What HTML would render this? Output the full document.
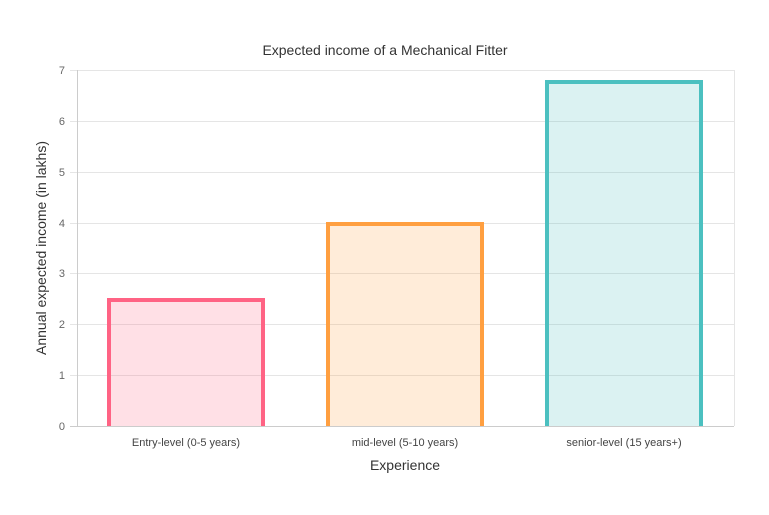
<!DOCTYPE html>
<html><head><meta charset="utf-8"><style>body{margin:0;background:#fff}</style></head><body>
<svg width="769" height="510" xmlns="http://www.w3.org/2000/svg" font-family="Liberation Sans, Arial, sans-serif">
<rect width="769" height="510" fill="#fff"/>
<text x="385" y="55" text-anchor="middle" font-size="14" fill="#333">Expected income of a Mechanical Fitter</text>
<g stroke="#e5e5e5" stroke-width="1">
<line x1="70" y1="70.5" x2="734" y2="70.5"/>
<line x1="70" y1="121.5" x2="734" y2="121.5"/>
<line x1="70" y1="172.5" x2="734" y2="172.5"/>
<line x1="70" y1="223.5" x2="734" y2="223.5"/>
<line x1="70" y1="273.5" x2="734" y2="273.5"/>
<line x1="70" y1="324.5" x2="734" y2="324.5"/>
<line x1="70" y1="375.5" x2="734" y2="375.5"/>
<line x1="734.5" y1="70" x2="734.5" y2="426"/>
</g>
<line x1="77.5" y1="70" x2="77.5" y2="426" stroke="#ccc"/>
<line x1="70" y1="426.5" x2="734" y2="426.5" stroke="#ccc"/>
<g font-size="11" fill="#666" text-anchor="end">
<text x="65" y="74">7</text><text x="65" y="125">6</text><text x="65" y="176">5</text><text x="65" y="227">4</text><text x="65" y="277">3</text><text x="65" y="328">2</text><text x="65" y="379">1</text><text x="65" y="430">0</text>
</g>
<rect x="109" y="300" width="154" height="126" fill="rgba(255,99,132,0.2)"/>
<path d="M109 426V300H263V426" fill="none" stroke="#ff6384" stroke-width="4"/>
<rect x="328" y="224" width="154" height="202" fill="rgba(255,159,64,0.2)"/>
<path d="M328 426V224H482V426" fill="none" stroke="#ff9f40" stroke-width="4"/>
<rect x="547" y="82" width="154" height="344" fill="rgba(75,192,192,0.2)"/>
<path d="M547 426V82H701V426" fill="none" stroke="#4bc0c0" stroke-width="4"/>
<g font-size="11" fill="#444" text-anchor="middle">
<text x="186" y="446">Entry-level (0-5 years)</text>
<text x="405" y="446">mid-level (5-10 years)</text>
<text x="624" y="446">senior-level (15 years+)</text>
</g>
<text x="405" y="470" text-anchor="middle" font-size="14" fill="#333">Experience</text>
<text transform="translate(46,248) rotate(-90)" text-anchor="middle" font-size="14" fill="#333">Annual expected income (in lakhs)</text>
</svg>
</body></html>
